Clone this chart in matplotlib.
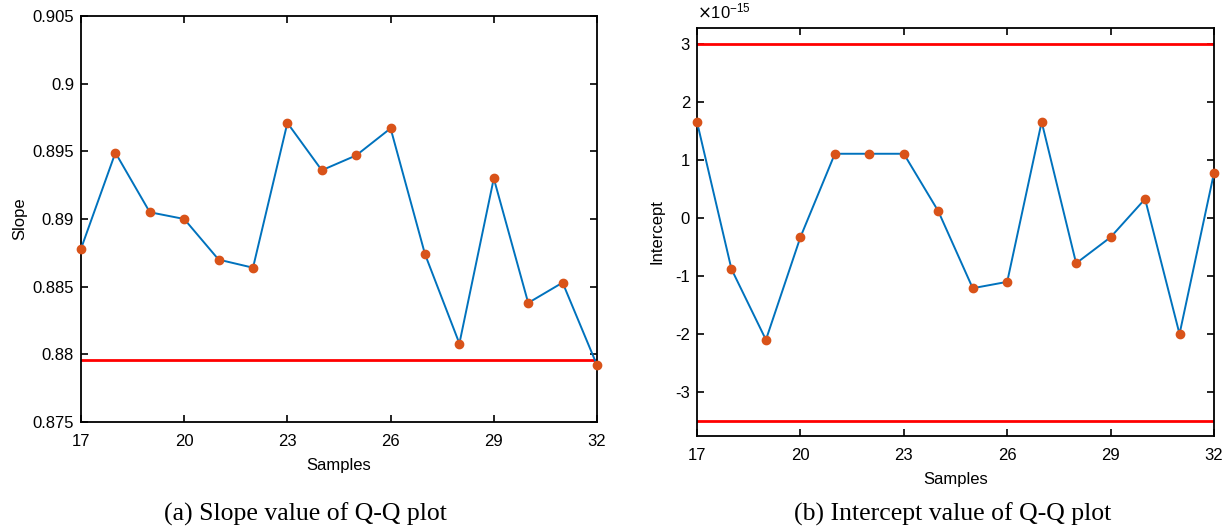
import numpy as np
import matplotlib
matplotlib.use("Agg")
import matplotlib.pyplot as plt
from matplotlib.ticker import FuncFormatter

plt.rcParams['axes.unicode_minus'] = False
plt.rcParams['font.family'] = ['Liberation Sans', 'DejaVu Sans']

samples = list(range(17, 33))
slope = [0.8878, 0.8949, 0.8905, 0.8900, 0.8870, 0.8864, 0.8971, 0.8936,
         0.8947, 0.8967, 0.8874, 0.8808, 0.8930, 0.8838, 0.8853, 0.8792]
slope_limit = 0.8796
intercept = np.array([1.66, -0.88, -2.10, -0.33, 1.11, 1.11, 1.11, 0.12,
                      -1.21, -1.10, 1.66, -0.78, -0.33, 0.33, -2.00, 0.78]) * 1e-15
intercept_limits = [3.0e-15, -3.5e-15]
xticks = [17, 20, 23, 26, 29, 32]
scale = 1e-15

blue = '#0072BD'
orange = '#D95319'

fig = plt.figure(figsize=(12.31, 5.30), dpi=100)
ax1 = fig.add_axes([81/1231, 1-422/530, 516/1231, 406/530])
ax2 = fig.add_axes([697/1231, 1-436/530, 517/1231, 408/530])

def style(ax):
    ax.tick_params(direction='in', length=5, width=1.2, top=True, right=True,
                   labelsize=12, pad=5)
    ax.tick_params(axis='x', pad=9)
    for s in ax.spines.values():
        s.set_linewidth(1.3)
    ax.set_xlim(17, 32)
    ax.set_xticks(xticks)
    ax.set_xlabel('Samples', fontsize=12, labelpad=6)

# (a) slope
ax1.axhline(slope_limit, color='red', lw=2, zorder=2)
ax1.plot(samples, slope, color=blue, lw=1.4, zorder=3)
ax1.plot(samples, slope, 'o', color=orange, ms=6, zorder=4, clip_on=False)
style(ax1)
ax1.set_ylim(0.875, 0.905)
ax1.set_yticks([0.875, 0.88, 0.885, 0.89, 0.895, 0.9, 0.905])
ax1.set_yticklabels(['0.875', '0.88', '0.885', '0.89', '0.895', '0.9', '0.905'])
ax1.set_ylabel('Slope', fontsize=12, labelpad=4)

# (b) intercept
for v in intercept_limits:
    ax2.axhline(v, color='red', lw=2, zorder=2)
ax2.plot(samples, intercept, color=blue, lw=1.4, zorder=3)
ax2.plot(samples, intercept, 'o', color=orange, ms=6, zorder=4, clip_on=False)
style(ax2)
ax2.set_ylim(-3.76e-15, 3.28e-15)
ax2.set_yticks(np.arange(-3, 4) * scale)
ax2.yaxis.set_major_formatter(FuncFormatter(lambda v, p: '%g' % round(v / scale, 6)))
ax2.text(0.0, 1.015, r'$\times\mathregular{10^{-15}}$', transform=ax2.transAxes,
         ha='left', va='bottom', fontsize=12)
ax2.set_ylabel('Intercept', fontsize=12, labelpad=8)

fig.text(305/1231, 1-514/530, '(a) Slope value of Q-Q plot', ha='center', va='center',
         fontsize=18.5, family='Liberation Serif')
fig.text(953/1231, 1-514/530, '(b) Intercept value of Q-Q plot', ha='center', va='center',
         fontsize=18.5, family='Liberation Serif')

fig.savefig('out.png', dpi=100)
